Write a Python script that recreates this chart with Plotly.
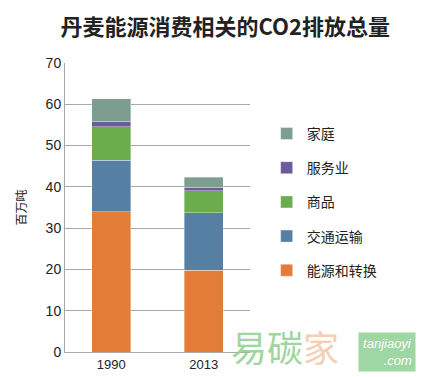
import plotly.graph_objects as go

years = ["1990", "2013"]
series_names = ["能源和转换", "交通运输", "商品", "服务业", "家庭"]
energy = [34.0, 19.8]
transport = [12.4, 13.9]
commerce = [8.1, 5.4]
services = [1.4, 0.8]
households = [5.4, 2.4]
values = [energy, transport, commerce, services, households]
colors = ["#E27C36", "#5680A3", "#6BAD4D", "#6B5B9A", "#7C9D90"]
y_ticks = [0, 10, 20, 30, 40, 50, 60, 70]

fig = go.Figure()
n = len(series_names)
for i, (name, vals, col) in enumerate(zip(series_names, values, colors)):
    fig.add_trace(go.Bar(
        x=years, y=vals, name=name, legendgroup=name, legendrank=n - i,
        marker=dict(color=col, line=dict(color="rgba(255,255,255,0.6)", width=0.6)),
    ))

fig.update_layout(
    barmode="stack",
    bargap=0.58,
    width=426, height=377,
    margin=dict(l=57, r=184, t=55, b=33),
    paper_bgcolor="white", plot_bgcolor="white",
    title=dict(text="<b>丹麦能源消费相关的CO2排放总量</b>", x=0.51, xanchor="center",
               y=0.95, yanchor="middle",
               font=dict(family="Noto Sans CJK SC", size=22, color="#222")),
    legend=dict(x=1.09, y=0.81, xanchor="left", yanchor="top",
                traceorder="grouped", tracegroupgap=13,
                font=dict(family="Noto Sans CJK SC", size=14, color="#222"),
                itemwidth=30),
    showlegend=True,
)
fig.update_yaxes(range=[0, 70], tickvals=y_ticks, showgrid=True, gridcolor="#A8A8A8",
                 gridwidth=1, showline=True, linecolor="#A8A8A8", ticks="",
                 tickfont=dict(family="Liberation Sans", size=14, color="#222"),
                 title=dict(text="百万吨", font=dict(family="Noto Sans CJK SC", size=12, color="#222"),
                            standoff=16), zeroline=False)
fig.update_xaxes(showline=True, linecolor="#A8A8A8", ticks="",
                 tickfont=dict(family="Liberation Sans", size=13, color="#222"))

# watermark
fig.add_annotation(xref="paper", yref="paper", x=1.19, y=0.02, xanchor="center", yanchor="middle",
                   text="<span style='color:#8FD08F'>易碳</span><span style='color:#F5C6A8'>家</span>",
                   showarrow=False, font=dict(family="Noto Sans CJK SC", size=36), opacity=0.85)
fig.add_annotation(xref="paper", yref="paper", x=1.74, y=0.0, xanchor="center", yanchor="middle",
                   text="<i>tanjiaoyi<br>      .com</i>", showarrow=False, bgcolor="#9ED6A4",
                   font=dict(family="Liberation Sans", size=13, color="white"), borderpad=3)

fig.write_html("out.html")
